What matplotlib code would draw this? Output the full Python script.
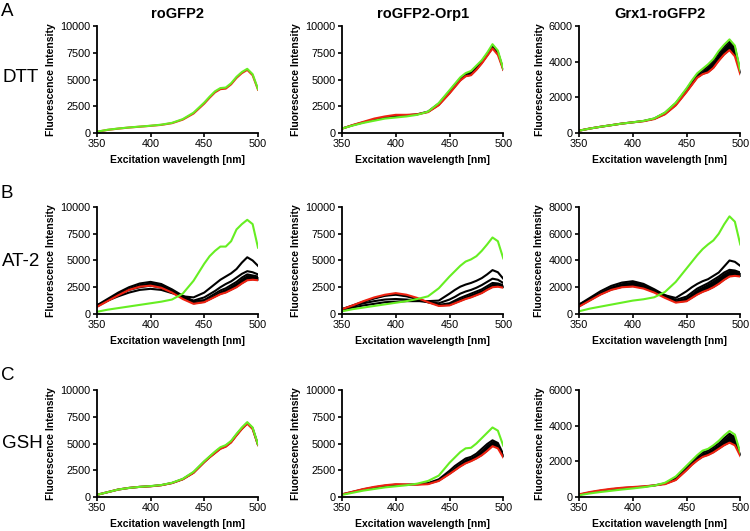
import numpy as np
import matplotlib
matplotlib.use("Agg")
import matplotlib.pyplot as plt

plt.rcParams['font.family'] = ['Liberation Sans', 'DejaVu Sans']

wl = [350, 360, 370, 380, 390, 400, 410, 420, 430, 440, 450,
      455, 460, 465, 470, 475, 480, 485, 490, 495, 500]

col_titles = ['roGFP2', 'roGFP2-Orp1', 'Grx1-roGFP2']
row_names = ['DTT', 'AT-2', 'GSH']
row_letters = ['A', 'B', 'C']

# --- row A: DTT ---
a1_green = [120, 300, 420, 520, 600, 680, 780, 950, 1300, 1900, 2850, 3400, 3900, 4200, 4250, 4650, 5250, 5700, 6000, 5500, 4100]
a1_red = [110, 290, 410, 510, 590, 670, 760, 920, 1250, 1820, 2750, 3300, 3800, 4100, 4150, 4550, 5150, 5600, 5900, 5400, 4050]

a2_green = [420, 700, 950, 1150, 1350, 1450, 1550, 1700, 2000, 2800, 4000, 4600, 5200, 5600, 5800, 6300, 6800, 7500, 8300, 7700, 6000]
a2_band_hi = [420, 730, 1000, 1250, 1450, 1600, 1650, 1750, 2000, 2750, 3900, 4500, 5100, 5500, 5650, 6150, 6700, 7400, 8100, 7550, 5950]
a2_red = [400, 750, 1050, 1350, 1550, 1700, 1700, 1750, 1950, 2600, 3700, 4300, 4900, 5300, 5400, 5900, 6500, 7200, 7900, 7300, 5900]

a3_green = [130, 250, 350, 440, 530, 600, 680, 820, 1150, 1700, 2500, 2950, 3350, 3600, 3850, 4150, 4600, 4950, 5250, 4900, 3500]
a3_band_hi = [130, 250, 350, 440, 530, 600, 675, 810, 1130, 1670, 2450, 2880, 3270, 3520, 3750, 4050, 4500, 4850, 5150, 4800, 3450]
a3_red = [130, 250, 350, 440, 530, 600, 660, 780, 1050, 1550, 2300, 2700, 3100, 3300, 3400, 3650, 4050, 4400, 4650, 4300, 3300]

# --- row B: AT-2 ---
b1_green = [200, 400, 550, 700, 850, 1000, 1150, 1350, 1900, 3100, 4700, 5400, 5900, 6300, 6300, 6800, 7900, 8400, 8800, 8400, 6200]
b1_black1 = [800, 1250, 1650, 2000, 2250, 2350, 2250, 1950, 1650, 1550, 2000, 2400, 2800, 3200, 3500, 3800, 4200, 4800, 5300, 5000, 4500]
b1_black2 = [750, 1300, 1850, 2250, 2500, 2650, 2450, 2050, 1600, 1250, 1550, 1850, 2150, 2500, 2800, 3050, 3400, 3750, 4000, 3900, 3700]
b1_band_hi = [800, 1400, 2000, 2500, 2850, 3000, 2800, 2300, 1700, 1200, 1300, 1600, 1900, 2200, 2400, 2700, 3000, 3400, 3700, 3600, 3500]
b1_red = [650, 1200, 1750, 2250, 2550, 2650, 2450, 2000, 1400, 950, 1100, 1350, 1600, 1850, 2000, 2250, 2500, 2850, 3150, 3200, 3150]

b2_green = [250, 450, 600, 750, 900, 1050, 1200, 1400, 1650, 2400, 3500, 4000, 4500, 4900, 5100, 5400, 5900, 6500, 7150, 6800, 5200]
b2_black1 = [400, 600, 800, 950, 1100, 1150, 1200, 1200, 1200, 1250, 1900, 2250, 2550, 2750, 2900, 3100, 3350, 3700, 4100, 3900, 3300]
b2_black2 = [450, 750, 1000, 1200, 1350, 1400, 1350, 1250, 1100, 1000, 1350, 1600, 1900, 2100, 2250, 2450, 2700, 3000, 3300, 3200, 2900]
b2_band_hi = [450, 800, 1150, 1450, 1700, 1800, 1650, 1400, 1100, 850, 1000, 1250, 1500, 1700, 1900, 2100, 2300, 2600, 2900, 2850, 2700]
b2_red = [450, 800, 1200, 1550, 1800, 1950, 1800, 1500, 1100, 750, 800, 1000, 1200, 1400, 1550, 1750, 1950, 2250, 2500, 2550, 2450]

b3_green = [200, 400, 550, 700, 850, 1000, 1100, 1250, 1650, 2400, 3400, 3900, 4400, 4850, 5200, 5500, 6000, 6700, 7300, 6900, 5200]
b3_black1 = [700, 1100, 1500, 1850, 2100, 2200, 2050, 1750, 1400, 1200, 1700, 2000, 2250, 2450, 2600, 2850, 3100, 3550, 4000, 3900, 3600]
b3_band_hi = [700, 1200, 1700, 2100, 2350, 2450, 2250, 1850, 1400, 1050, 1300, 1600, 1900, 2100, 2300, 2550, 2800, 3100, 3300, 3250, 3100]
b3_red = [550, 1000, 1450, 1800, 2000, 2050, 1900, 1600, 1200, 850, 950, 1200, 1450, 1650, 1800, 2000, 2250, 2550, 2800, 2850, 2800]

# --- row C: GSH ---
c1_green = [200, 450, 700, 850, 950, 1020, 1120, 1330, 1700, 2350, 3350, 3800, 4250, 4650, 4850, 5250, 5900, 6500, 7000, 6500, 4900]
c1_band_hi = [200, 450, 700, 850, 950, 1010, 1110, 1310, 1670, 2300, 3300, 3750, 4180, 4580, 4780, 5180, 5830, 6430, 6930, 6430, 4870]
c1_red = [200, 450, 700, 850, 950, 1000, 1100, 1300, 1650, 2250, 3250, 3700, 4100, 4500, 4700, 5100, 5750, 6350, 6850, 6350, 4850]

c2_green = [200, 400, 600, 750, 900, 1000, 1100, 1250, 1500, 2000, 3200, 3700, 4200, 4550, 4600, 5000, 5500, 6000, 6500, 6200, 4800]
c2_band_hi = [250, 480, 720, 900, 1050, 1150, 1150, 1200, 1300, 1650, 2450, 2900, 3250, 3600, 3750, 4050, 4500, 4950, 5300, 5050, 4000]
c2_red = [250, 500, 750, 950, 1100, 1200, 1180, 1150, 1200, 1500, 2150, 2500, 2850, 3150, 3350, 3600, 3900, 4300, 4750, 4550, 3700]

c3_green = [100, 200, 280, 350, 420, 480, 550, 640, 800, 1150, 1750, 2050, 2350, 2600, 2700, 2900, 3150, 3450, 3700, 3500, 2500]
c3_band_hi = [130, 250, 350, 430, 500, 540, 580, 650, 760, 1080, 1650, 1950, 2250, 2500, 2600, 2800, 3000, 3300, 3550, 3350, 2450]
c3_red = [150, 280, 380, 460, 520, 560, 600, 650, 720, 950, 1500, 1800, 2050, 2250, 2350, 2500, 2700, 2900, 3050, 2900, 2300]

ticks_10k = [0, 2500, 5000, 7500, 10000]
ticks_a3 = [0, 2000, 4000, 6000]
ticks_b3 = [0, 2000, 4000, 6000, 8000]
ticks_c3 = [0, 2000, 4000, 6000]

panels = [
    [(a1_green, a1_red, None, [], ticks_10k),
     (a2_green, a2_red, a2_band_hi, [], ticks_10k),
     (a3_green, a3_red, a3_band_hi, [], ticks_a3)],
    [(b1_green, b1_red, b1_band_hi, [b1_black1, b1_black2], ticks_10k),
     (b2_green, b2_red, b2_band_hi, [b2_black1, b2_black2], ticks_10k),
     (b3_green, b3_red, b3_band_hi, [b3_black1], ticks_b3)],
    [(c1_green, c1_red, c1_band_hi, [], ticks_10k),
     (c2_green, c2_red, c2_band_hi, [], ticks_10k),
     (c3_green, c3_red, c3_band_hi, [], ticks_c3)],
]

GREEN = '#66ee22'
RED = '#ee2211'

fig = plt.figure(figsize=(7.5, 5.31), dpi=100)

lefts = [0.129, 0.456, 0.772]
bottoms = [0.7495, 0.4087, 0.064]
w, h = 0.215, 0.2015

for r in range(3):
    for c in range(3):
        green, red, band_hi, blacks, yt = panels[r][c]
        ax = fig.add_axes([lefts[c], bottoms[r], w, h])
        if band_hi is not None:
            ax.fill_between(wl, red, band_hi, color='black', lw=0)
            ax.plot(wl, band_hi, color='black', lw=1.5)
        for k in blacks:
            ax.plot(wl, k, color='black', lw=1.5)
        ax.plot(wl, red, color=RED, lw=1.5)
        ax.plot(wl, green, color=GREEN, lw=1.5)

        ax.set_xlim(350, 500)
        ax.set_ylim(0, yt[-1])
        ax.set_xticks([350, 400, 450, 500])
        ax.set_yticks(yt)
        ax.spines['top'].set_visible(False)
        ax.spines['right'].set_visible(False)
        ax.spines['left'].set_linewidth(1.3)
        ax.spines['bottom'].set_linewidth(1.3)
        ax.tick_params(labelsize=7.8, length=3, width=1.2, pad=1.5)
        ax.set_xlabel('Excitation wavelength [nm]', fontsize=7.5, fontweight='bold', labelpad=4)
        ax.set_ylabel('Fluorescence Intensity', fontsize=7.5, fontweight='bold', labelpad=3)
        ax.patch.set_alpha(0)
        if r == 0:
            ax.set_title(col_titles[c], fontsize=10.5, fontweight='bold', pad=6)

letter_y = [11, 194, 375]
name_y = [77, 262, 443]
for r in range(3):
    fig.text(1 / 750, 1 - letter_y[r] / 531, row_letters[r], fontsize=13.5, va='center', ha='left')
    fig.text(2 / 750, 1 - name_y[r] / 531, row_names[r], fontsize=13.5, va='center', ha='left')

fig.savefig('out.png', dpi=100)
